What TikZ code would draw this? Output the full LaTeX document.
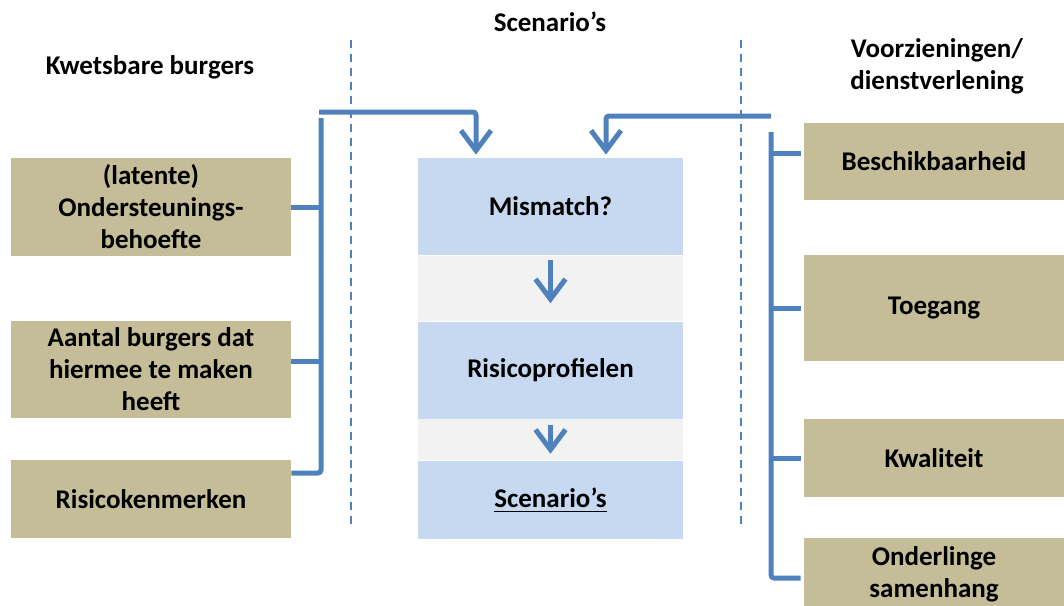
\documentclass[tikz,border=0pt]{standalone}
\usepackage{fontspec}
\setmainfont{Carlito}
\usetikzlibrary{positioning,arrows.meta}
\definecolor{kaki}{HTML}{C4BD97}
\definecolor{lichtblauw}{HTML}{C6D9F1}
\definecolor{lichtgrijs}{HTML}{F2F2F2}
\definecolor{lijnblauw}{HTML}{4F81BD}

\begin{document}
\begin{tikzpicture}[x=0.5pt, y=-0.5pt, node distance=0pt, font=\fontsize{13.5}{16}\selectfont\bfseries]

    % Styles des noeuds
    \tikzstyle{groep} = [rectangle, inner sep=0pt, minimum width=140pt, align=center, fill=kaki]
    \tikzstyle{voorziening} = [rectangle, inner sep=0pt, minimum width=130pt, align=center, fill=kaki]
    \tikzstyle{fase} = [rectangle, inner sep=0pt, minimum width=132.5pt, minimum height=48.5pt, align=center, fill=lichtblauw]
    \tikzstyle{tussen} = [rectangle, inner sep=0pt, minimum width=132.5pt, fill=lichtgrijs]
    \tikzstyle{kop} = [align=center, inner sep=0pt]
    \tikzstyle{haak} = [line width=2.5pt, draw=lijnblauw, rounded corners=1.5pt]
    \tikzstyle{pijl} = [haak, -{Straight Barb[length=10pt, width=15pt]}]
    \tikzstyle{scheiding} = [draw=lijnblauw, line width=0.9pt, dash pattern=on 4pt off 3pt]

    \useasboundingbox (0,0) rectangle (1064,605);

    % Koppen
    \node (titel) [kop] at (550,22) {Scenario’s};
    \node (kwetsbaar) [kop] at (150,67) {Kwetsbare burgers};
    \node (voorzieningen) [kop] at (937,66) {Voorzieningen/\\dienstverlening};

    % Noeuds gauche
    \node (ondersteuning) [groep, minimum height=49pt] at (151,207) {(latente)\\Ondersteunings-\\behoefte};
    \node (aantal) [groep, minimum height=48.5pt] at (151,369.5) {Aantal burgers dat\\hiermee te maken\\heeft};
    \node (kenmerken) [groep, minimum height=39pt] at (151,499) {Risicokenmerken};

    % Noeuds milieu
    \node (mismatch) [fase] at (550.5,206.5) {Mismatch?};
    \node (tussen1) [tussen, minimum height=32.5pt, below=of mismatch] {};
    \node (profielen) [fase, below=of tussen1] {Risicoprofielen};
    \node (tussen2) [tussen, minimum height=20.5pt, below=of profielen] {};
    \node (scenarios) [fase, minimum height=39pt, below=of tussen2] {\underline{Scenario’s}};

    % Noeuds droite
    \node (beschikbaar) [voorziening, minimum height=38.5pt] at (934,161.5) {Beschikbaarheid};
    \node (toegang) [voorziening, minimum height=53pt] at (934,308) {Toegang};
    \node (kwaliteit) [voorziening, minimum height=39pt] at (934,458) {Kwaliteit};
    \node (samenhang) [voorziening, minimum height=36pt] at (934,574) {Onderlinge\\samenhang};

    % Lignes pointillées
    \coordinate (scheidinglinks) at (351,40);
    \coordinate (scheidingrechts) at (741,40);
    \draw [scheiding] (scheidinglinks) -- ++(0,485);
    \draw [scheiding] (scheidingrechts) -- ++(0,485);

    % Accolades
    \coordinate (linksboven) at (321,118);
    \coordinate (linksonder) at (321,473);
    \draw [haak] (linksboven) -- (linksonder) -- (kenmerken.east |- linksonder);
    \draw [haak] (ondersteuning.east) -- (ondersteuning.east -| linksboven);
    \draw [haak] ([yshift=4.25pt]aantal.east) -- ([yshift=4.25pt]aantal.east -| linksboven);

    \coordinate (rechtsboven) at (771,132);
    \coordinate (rechtsonder) at (771,578);
    \draw [haak] (rechtsboven) -- (rechtsonder) -- ([xshift=-1.5pt]samenhang.west |- rechtsonder);
    \draw [haak] ([xshift=-1.5pt, yshift=4.25pt]beschikbaar.west) -- ([yshift=4.25pt]beschikbaar.west -| rechtsboven);
    \draw [haak] ([xshift=-1.5pt]toegang.west) -- (toegang.west -| rechtsboven);
    \draw [haak] ([xshift=-1.5pt]kwaliteit.west) -- (kwaliteit.west -| rechtsboven);

    % Flèches
    \coordinate (startlinks) at (319,112);
    \coordinate (startrechts) at (771,116);
    \draw [pijl] (startlinks) -| ([xshift=-37.25pt, yshift=1.5pt]mismatch.north);
    \draw [pijl] (startrechts) -| ([xshift=27.75pt, yshift=1.5pt]mismatch.north);
    \draw [pijl] ([yshift=-2.5pt]tussen1.north) -- ([yshift=9pt]tussen1.south);
    \draw [pijl] ([yshift=-3pt]tussen2.north) -- ([yshift=3.5pt]tussen2.south);

\end{tikzpicture}
\end{document}
